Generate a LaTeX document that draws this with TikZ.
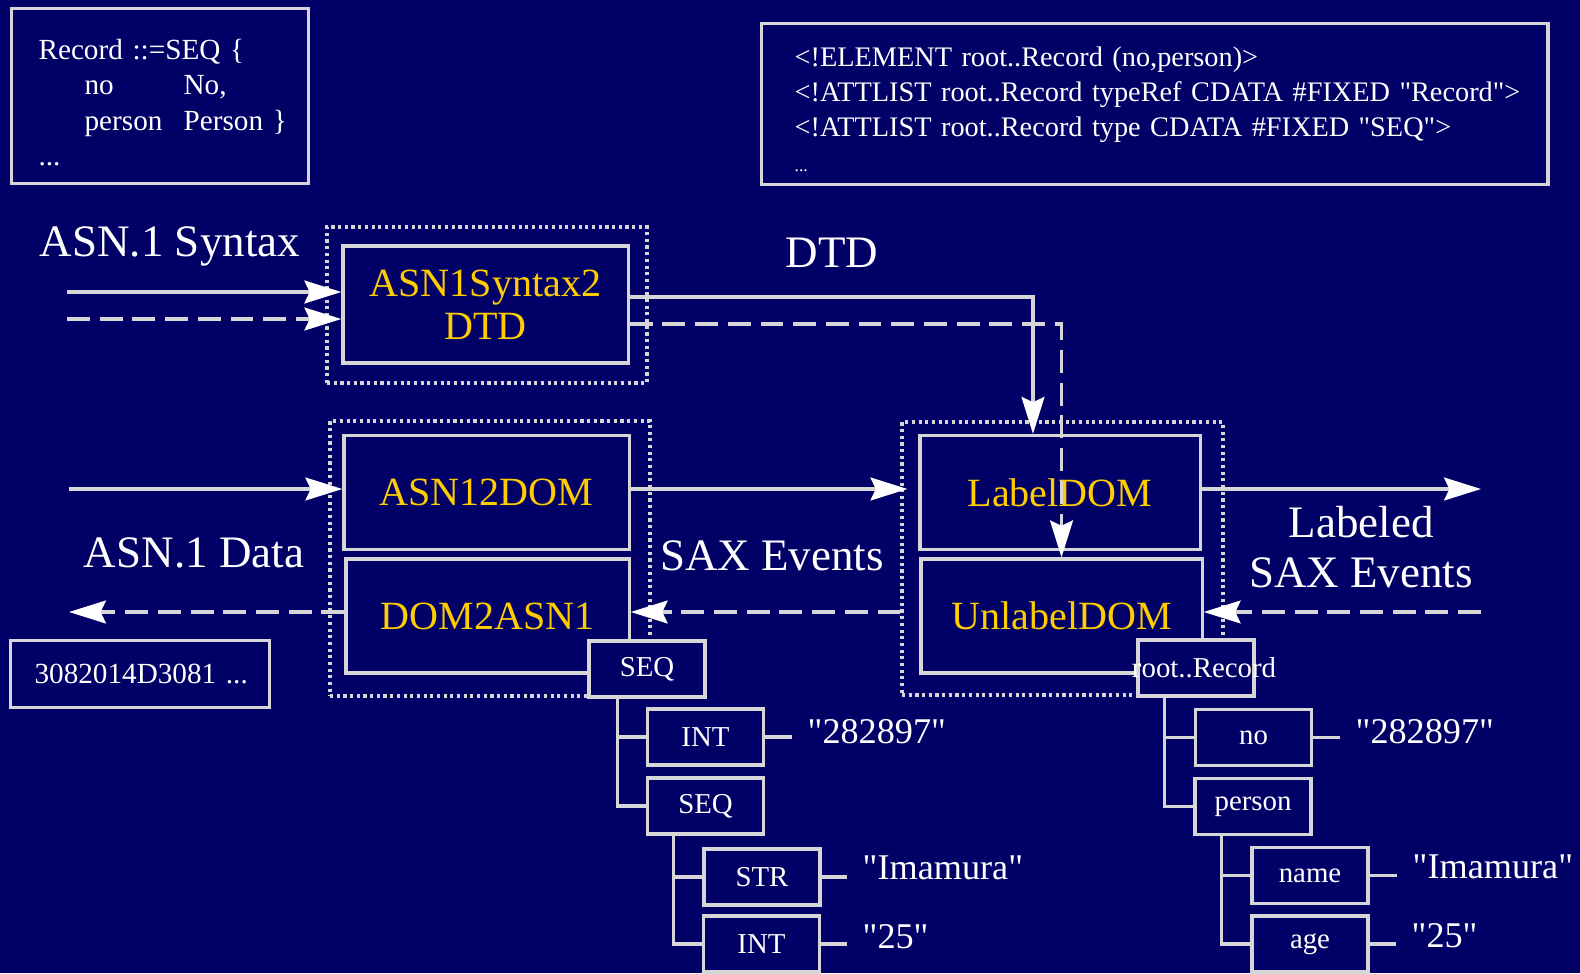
\documentclass[tikz,border=0pt]{standalone}
\usepackage{fontspec}
\setmainfont{Liberation Serif}
\usetikzlibrary{arrows.meta, positioning, fit}

\definecolor{navy}{RGB}{0,0,102}
\definecolor{lgray}{RGB}{214,214,214}
\definecolor{gold}{RGB}{255,204,0}

\newcommand{\qt}[1]{\textquotedbl#1\textquotedbl}

\tikzset{
  codebox/.style={draw=lgray, line width=0.9pt, fill=navy, text=white, align=left,
    anchor=north west, font=\fontsize{8.3}{10.1}\selectfont},
  procbox/.style={draw=lgray, line width=0.9pt, fill=navy, text=gold, align=center,
    minimum height=1.14cm, font=\fontsize{11.4}{12.2}\selectfont},
  grpbox/.style={draw=lgray, densely dotted, line width=0.9pt, inner sep=0pt},
  treebox/.style={draw=lgray, line width=0.9pt, fill=navy, text=white, inner sep=0pt,
    minimum width=1.16cm, minimum height=0.56cm, font=\fontsize{8.2}{10}\selectfont},
  biglabel/.style={text=white, align=center, font=\fontsize{12.8}{14}\selectfont},
  vallabel/.style={text=white, anchor=base west, inner sep=0.15cm,
    font=\fontsize{10.3}{12}\selectfont},
  flow/.style={draw=lgray, line width=0.9pt,
    -{Stealth[length=10.5pt, width=6.5pt, inset=1.5pt, color=white]}},
  dashflow/.style={flow, dash pattern=on 6.5pt off 2.8pt},
  branch/.style={draw=lgray, line width=0.9pt},
}

\begin{document}
\begin{tikzpicture}[x=0.01cm, y=-0.01cm]
\useasboundingbox (0,0) rectangle (1580,973);
\fill[navy] (0,0) rectangle (1580,973);

% source boxes
\node[codebox, minimum width=2.97cm, minimum height=1.75cm, text width=2.43cm, inner xsep=0.27cm] (asndef) at (10,7)
  {\mbox{\rule{0pt}{0.33cm}Record ::=SEQ \{}\\
   \mbox{\hspace*{0.46cm}\makebox[0.99cm][l]{no}No,}\\
   \mbox{\hspace*{0.46cm}\makebox[0.99cm][l]{person}Person \}}\\
   ...};
\node[codebox, font=\fontsize{8.05}{10}\selectfont, minimum width=7.86cm, minimum height=1.61cm, text width=7.2cm, inner xsep=0.33cm] (dtddef) at (760,22)
  {\mbox{\rule{0pt}{0.30cm}<!ELEMENT root..Record (no,person)>}\\
   \mbox{<!ATTLIST root..Record typeRef CDATA \#FIXED \qt{Record}>}\\
   \mbox{<!ATTLIST root..Record type CDATA \#FIXED \qt{SEQ}>}\\
   {\fontsize{5}{6}\selectfont ...}};
\node[codebox, minimum width=2.59cm, minimum height=0.67cm, text width=2.11cm, inner xsep=0.24cm] (berdata) at (9,639)
  {\mbox{3082014D3081 ...}};

% converter groups
\node[grpbox, fit={(327,227) (647,383)}] (sgrp) {};
\node[grpbox, fit={(330,421) (650,696)}] (lgrp) {};
\node[grpbox, fit={(902,422) (1223,695)}] (rgrp) {};

\node[procbox, minimum width=2.85cm, minimum height=1.17cm] (syn2dtd) at (485.5,304.5) {ASN1Syntax2\\DTD};
\node[procbox, minimum width=2.85cm] (a2dom) at (486.5,492.5) {ASN12DOM};
\node[procbox, minimum width=2.83cm] (dom2a) at (487.5,616) {DOM2ASN1};
\node[procbox, minimum width=2.80cm] (labdom) at (1060,492.5) {LabelDOM};
\node[procbox, minimum width=2.81cm] (unlabdom) at (1061.5,616) {UnlabelDOM};

% labels
\node[biglabel, anchor=base] (synlbl) at (170,256) {ASN.1 Syntax};
\node[biglabel, anchor=base] (dtdlbl) at (832,267) {DTD};
\node[biglabel, anchor=base] (datalbl) at (194,567) {ASN.1 Data};
\node[biglabel, anchor=base] (saxlbl) at (772,570) {SAX Events};
\node[biglabel] (lsaxlbl) at (1361,547) {Labeled\\SAX Events};

\coordinate (synin) at (67,292);
\coordinate (synin2) at (67,319);
\coordinate (datain) at (69,489);
\coordinate (dataout) at (69,612);
\coordinate (saxout) at (1481,489);
\coordinate (saxin) at (1481,612);

% flows
\draw[flow] (synin) -- (synin -| syn2dtd.west);
\draw[dashflow] (synin2) -- (synin2 -| syn2dtd.west);
\draw[flow] ([yshift=0.075cm]syn2dtd.east) -| ([xshift=-0.27cm]labdom.north);
\draw[dashflow] ([yshift=-0.195cm]syn2dtd.east) -| (unlabdom.north);
\draw[flow] (datain) -- (datain -| a2dom.west);
\draw[flow, shorten >=-0.07cm] (datain -| a2dom.east) -- (datain -| rgrp.west);
\draw[flow] (saxout -| labdom.east) -- (saxout);
\draw[dashflow] (saxin) -- (saxin -| unlabdom.east);
\draw[dashflow] (saxin -| rgrp.west) -- (saxin -| dom2a.east);
\draw[dashflow] (dataout -| dom2a.west) -- (dataout);

% ASN.1 value tree
\node[treebox] (seqa) at (647,669) {SEQ};
\node[treebox] (inta) at (705.5,737) {INT};
\node[treebox] (seqb) at (705.5,806) {SEQ};
\node[treebox] (stra) at (762,877) {STR};
\node[treebox] (intb) at (761.5,944) {INT};
\draw[branch] ([xshift=0.30cm]seqa.south west) |- (inta.west);
\draw[branch] ([xshift=0.30cm]seqa.south west) |- (seqb.west);
\draw[branch] ([xshift=0.28cm]seqb.south west) |- (stra.west);
\draw[branch] ([xshift=0.28cm]seqb.south west) |- (intb.west);
\node[vallabel] (vala) at (792,743) {\qt{282897}};
\node[vallabel] (valb) at (847,879) {\qt{Imamura}};
\node[vallabel] (valc) at (847,948) {\qt{25}};
\draw[branch] (inta.east) -- (inta.east -| vala.west);
\draw[branch] (stra.east) -- (stra.east -| valb.west);
\draw[branch] (intb.east) -- (intb.east -| valc.west);

% labeled tree
\node[treebox] (rootrec) at (1196,668) {\makebox[0pt][l]{\hspace{-0.64cm}root..Record}};
\node[treebox] (recno) at (1253.5,737.5) {no};
\node[treebox] (recperson) at (1253,806.5) {person};
\node[treebox] (recname) at (1310,875.5) {name};
\node[treebox] (recage) at (1310,944) {age};
\draw[branch] ([xshift=0.28cm]rootrec.south west) |- (recno.west);
\draw[branch] ([xshift=0.28cm]rootrec.south west) |- (recperson.west);
\draw[branch] ([xshift=0.28cm]recperson.south west) |- (recname.west);
\draw[branch] ([xshift=0.28cm]recperson.south west) |- (recage.west);
\node[vallabel] (vald) at (1340,743) {\qt{282897}};
\node[vallabel] (vale) at (1397,878) {\qt{Imamura}};
\node[vallabel] (valf) at (1396,947) {\qt{25}};
\draw[branch] (recno.east) -- (recno.east -| vald.west);
\draw[branch] (recname.east) -- (recname.east -| vale.west);
\draw[branch] (recage.east) -- (recage.east -| valf.west);
\end{tikzpicture}
\end{document}
